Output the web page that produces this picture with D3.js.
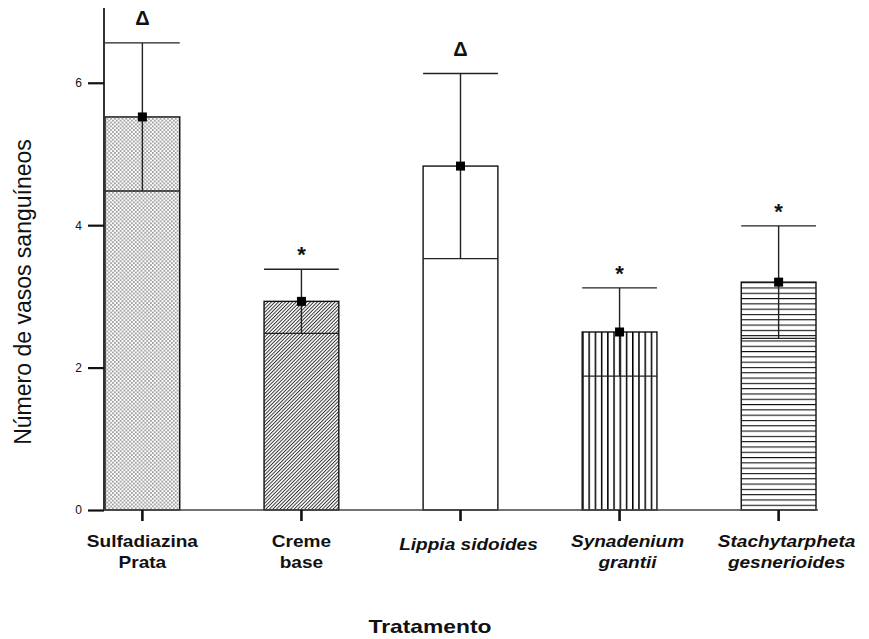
<!DOCTYPE html>
<html>
<head>
<meta charset="utf-8">
<script src="https://cdn.jsdelivr.net/npm/d3@7"></script>
<style>
  body { margin: 0; background: #fff; }
  text { font-family: "Liberation Sans", Arial, sans-serif; fill: #111; }
</style>
</head>
<body>
<div id="chart"></div>
<script>
'use strict'

var width = 869;
var height = 639;

// values
var categories = ['Sulfadiazina Prata', 'Creme base', 'Lippia sidoides', 'Synadenium grantii', 'Stachytarpheta gesnerioides'];
var labelLines = [['Sulfadiazina', 'Prata'], ['Creme', 'base'], ['Lippia sidoides'], ['Synadenium', 'grantii'], ['Stachytarpheta', 'gesnerioides']];
var italicLabel = [false, false, true, true, true];
var means = [5.52, 2.93, 4.83, 2.50, 3.20];
var sds = [1.04, 0.45, 1.30, 0.62, 0.79];
var marks = ['\u0394', '*', '\u0394', '*', '*'];
var yTicks = [0, 2, 4, 6];
var xTitle = 'Tratamento';
var yTitle = 'Número de vasos sanguíneos';

var patterns = ['dots', 'diag', null, 'vert', 'horiz'];

var svg = d3.select('#chart').append('svg')
  .attr('width', width)
  .attr('height', height);

var x = d3.scaleBand()
  .domain(categories)
  .range([105, 816])
  .paddingInner(0.53)
  .paddingOuter(0);

var y = d3.scaleLinear()
  .domain([0, 7.05])
  .range([510, 8]);

//fill patterns for the bars

var defs = svg.append('defs');

var dots = defs.append('pattern')
  .attr('id', 'dots')
  .attr('patternUnits', 'userSpaceOnUse')
  .attr('width', 3.8).attr('height', 3.8);
dots.append('circle').attr('cx', 0.9).attr('cy', 0.9).attr('r', 0.7).attr('fill', '#222');
dots.append('circle').attr('cx', 2.8).attr('cy', 2.8).attr('r', 0.7).attr('fill', '#222');

defs.append('pattern')
  .attr('id', 'diag')
  .attr('patternUnits', 'userSpaceOnUse')
  .attr('width', 2.5).attr('height', 10)
  .attr('patternTransform', 'rotate(45)')
  .append('line')
    .attr('x1', 0.5).attr('y1', 0).attr('x2', 0.5).attr('y2', 10)
    .attr('stroke', '#222').attr('stroke-width', 0.9);

defs.append('pattern')
  .attr('id', 'vert')
  .attr('patternUnits', 'userSpaceOnUse')
  .attr('x', x(categories[3]))
  .attr('width', x.bandwidth() / 12).attr('height', 10)
  .append('line')
    .attr('x1', 0).attr('y1', 0).attr('x2', 0).attr('y2', 10)
    .attr('stroke', '#000').attr('stroke-width', 3);

defs.append('pattern')
  .attr('id', 'horiz')
  .attr('patternUnits', 'userSpaceOnUse')
  .attr('y', y(means[4]))
  .attr('width', 10).attr('height', 5.3)
  .append('line')
    .attr('x1', 0).attr('y1', 0).attr('x2', 10).attr('y2', 0)
    .attr('stroke', '#111').attr('stroke-width', 2.2);

//bars

var groups = svg.selectAll('g.bar')
  .data(categories)
  .enter().append('g')
    .attr('class', 'bar');

groups.append('rect')
  .attr('x', function(d){ return x(d); })
  .attr('y', function(d, i){ return y(means[i]); })
  .attr('width', x.bandwidth())
  .attr('height', function(d, i){ return y(0) - y(means[i]); })
  .attr('fill', function(d, i){ return patterns[i] ? 'url(#' + patterns[i] + ')' : '#fff'; })
  .attr('stroke', '#111')
  .attr('stroke-width', 1.4);

//error bars: line from mean to mean +/- sd, caps across the bar

function cx(d){ return x(d) + x.bandwidth() / 2; }

groups.append('line')
  .attr('x1', cx).attr('x2', cx)
  .attr('y1', function(d, i){ return y(means[i] + sds[i]); })
  .attr('y2', function(d, i){ return y(means[i] - sds[i]); })
  .attr('stroke', '#222').attr('stroke-width', 1.4);

groups.append('line')
  .attr('x1', function(d){ return x(d); })
  .attr('x2', function(d){ return x(d) + x.bandwidth(); })
  .attr('y1', function(d, i){ return y(means[i] + sds[i]); })
  .attr('y2', function(d, i){ return y(means[i] + sds[i]); })
  .attr('stroke', '#222').attr('stroke-width', 1.4);

groups.append('line')
  .attr('x1', function(d){ return x(d); })
  .attr('x2', function(d){ return x(d) + x.bandwidth(); })
  .attr('y1', function(d, i){ return y(means[i] - sds[i]); })
  .attr('y2', function(d, i){ return y(means[i] - sds[i]); })
  .attr('stroke', '#222').attr('stroke-width', 1.4);

groups.append('rect')
  .attr('x', function(d){ return cx(d) - 4.5; })
  .attr('y', function(d, i){ return y(means[i]) - 4.5; })
  .attr('width', 9).attr('height', 9)
  .attr('fill', '#000');

//significance marks above the caps

groups.append('text')
  .attr('x', cx)
  .attr('y', function(d, i){ return y(means[i] + sds[i]) - (marks[i] === '*' ? 7 : 18); })
  .attr('text-anchor', 'middle')
  .style('font-size', function(d, i){ return marks[i] === '*' ? '22px' : '20px'; })
  .style('font-weight', 'bold')
  .text(function(d, i){ return marks[i]; });

//axes

var yAxis = svg.append('g')
  .attr('transform', 'translate(104,0)')
  .call(d3.axisLeft(y).tickValues(yTicks).tickSize(16).tickPadding(6).tickFormat(d3.format('d')));
yAxis.select('.domain').attr('stroke', '#333').attr('stroke-width', 2).attr('d', 'M0,' + y(0) + 'V' + y.range()[1]);
yAxis.selectAll('.tick line').attr('stroke', '#111').attr('stroke-width', 2.2);
yAxis.selectAll('.tick text')
  .style('font-size', '12px')
  .style('font-family', '"Liberation Sans", Arial, sans-serif')
  .attr('fill', '#222');

var xAxis = svg.append('g')
  .attr('transform', 'translate(0,' + y(0) + ')')
  .call(d3.axisBottom(x).tickSize(11).tickFormat(''));
xAxis.select('.domain').attr('stroke', '#444').attr('stroke-width', 1.5).attr('d', 'M104,0H818');
xAxis.selectAll('.tick line').attr('stroke', '#111').attr('stroke-width', 2.6);

//category labels, two lines each, slightly wide like the original

function stretch(sel, k){
  sel.each(function(){
    var w = this.getComputedTextLength();
    d3.select(this).attr('textLength', w * k).attr('lengthAdjust', 'spacingAndGlyphs');
  });
}

categories.forEach(function(c, i){
  var lines = labelLines[i];
  lines.forEach(function(line, j){
    var t = svg.append('text')
      .attr('x', cx(c) + (italicLabel[i] ? 8 : 0))
      .attr('y', (lines.length === 1 ? 550 : 547) + j * 21)
      .attr('text-anchor', 'middle')
      .style('font-size', '17px')
      .style('font-weight', 'bold')
      .style('font-style', italicLabel[i] ? 'italic' : 'normal')
      .text(line);
    stretch(t, 1.12);
  });
});

var xt = svg.append('text')
  .attr('x', 430)
  .attr('y', 633)
  .attr('text-anchor', 'middle')
  .style('font-size', '19px')
  .style('font-weight', 'bold')
  .text(xTitle);
stretch(xt, 1.2);

svg.append('text')
  .attr('transform', 'translate(31,292) rotate(-90)')
  .attr('text-anchor', 'middle')
  .style('font-size', '23px')
  .text(yTitle);
</script>
</body>
</html>
